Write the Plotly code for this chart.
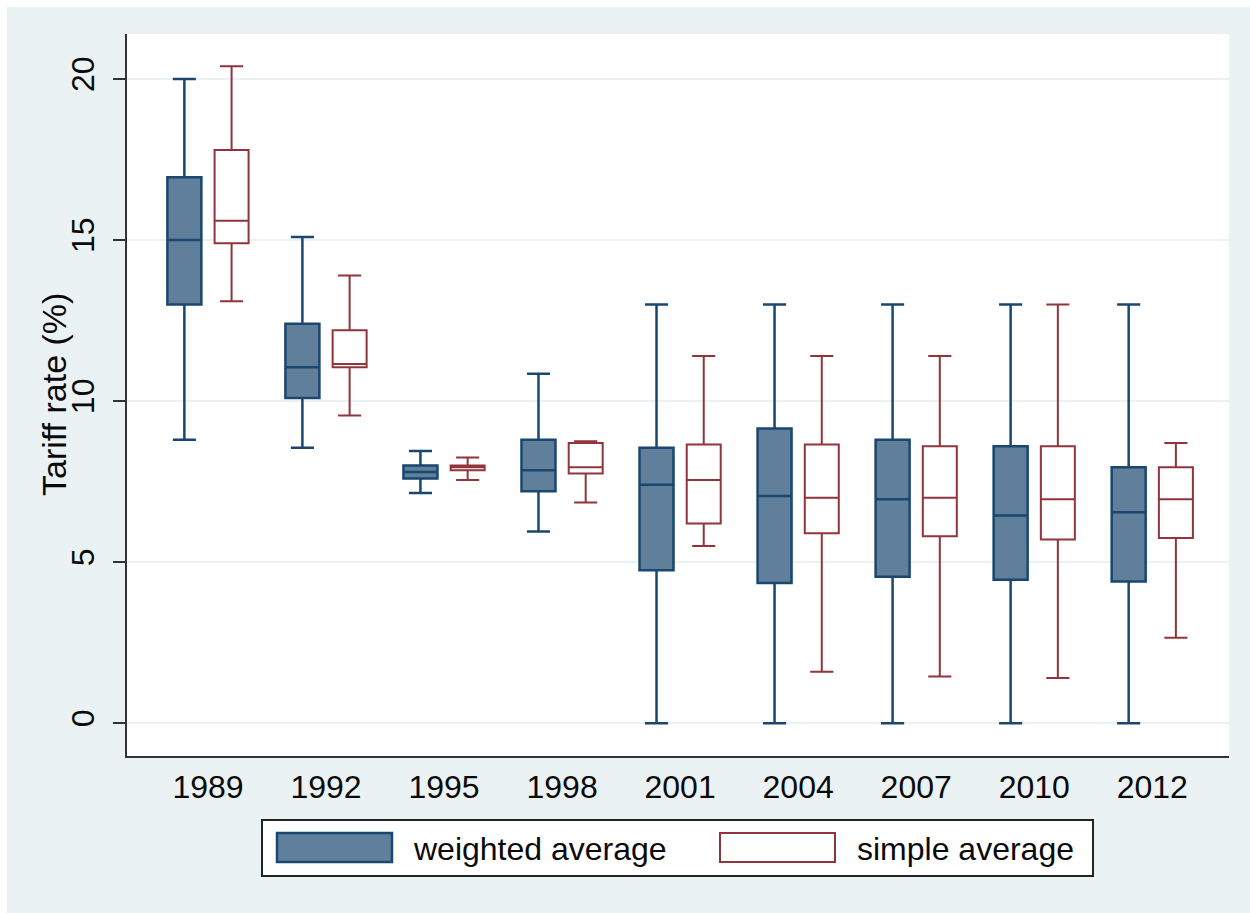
import plotly.graph_objects as go

# Survey years
years = ["1989", "1992", "1995", "1998", "2001", "2004", "2007", "2010", "2012"]

# Trade-weighted average tariff rate (%): box summary per year
w_low = [8.8, 8.55, 7.15, 5.95, 0.0, 0.0, 0.0, 0.0, 0.0]
w_q1 = [13.0, 10.1, 7.6, 7.2, 4.75, 4.35, 4.55, 4.45, 4.4]
w_med = [15.0, 11.05, 7.8, 7.85, 7.4, 7.05, 6.95, 6.45, 6.55]
w_q3 = [16.95, 12.4, 8.0, 8.8, 8.55, 9.15, 8.8, 8.6, 7.95]
w_high = [20.0, 15.1, 8.45, 10.85, 13.0, 13.0, 13.0, 13.0, 13.0]

# Simple average tariff rate (%): box summary per year
s_low = [13.1, 9.55, 7.55, 6.85, 5.5, 1.6, 1.45, 1.4, 2.65]
s_q1 = [14.9, 11.05, 7.85, 7.75, 6.2, 5.9, 5.8, 5.7, 5.75]
s_med = [15.6, 11.15, 7.95, 7.95, 7.55, 7.0, 7.0, 6.95, 6.95]
s_q3 = [17.8, 12.2, 8.0, 8.7, 8.65, 8.65, 8.6, 8.6, 7.95]
s_high = [20.4, 13.9, 8.25, 8.75, 11.4, 11.4, 11.4, 13.0, 8.7]

y_ticks = [0, 5, 10, 15, 20]

NAVY = "#1A476F"
NAVY_FILL = "#5F7F9B"
MAROON = "#90353B"
BG = "#EAF2F3"
FONT = "Arial, Liberation Sans, sans-serif"
TXT = "#0A0A0A"
FS = 32

fig = go.Figure()
fig.add_trace(go.Box(
    x=years, q1=w_q1, median=w_med, q3=w_q3,
    lowerfence=w_low, upperfence=w_high,
    name="weighted average", fillcolor=NAVY_FILL,
    line=dict(color=NAVY, width=2.5), whiskerwidth=0.68,
    boxpoints=False, hoverinfo="skip",
))
fig.add_trace(go.Box(
    x=years, q1=s_q1, median=s_med, q3=s_q3,
    lowerfence=s_low, upperfence=s_high,
    name="simple average", fillcolor="white",
    line=dict(color=MAROON, width=2), whiskerwidth=0.68,
    boxpoints=False, hoverinfo="skip",
))

# Plot-area geometry in pixels, used to place the hand-drawn legend
W, H = 1250, 913
ML, MR, MT, MB = 127, 21, 34, 157
PW, PH = W - ML - MR, H - MT - MB


def px(x):
    return (x - ML) / PW


def py(y):
    return (H - MB - y) / PH


shapes = [
    # thin white border strip at top and left of the figure
    dict(type="rect", xref="paper", yref="paper", x0=px(0), x1=px(W), y0=py(0), y1=py(7),
         fillcolor="white", line=dict(width=0), layer="below"),
    dict(type="rect", xref="paper", yref="paper", x0=px(0), x1=px(7), y0=py(H), y1=py(0),
         fillcolor="white", line=dict(width=0), layer="below"),
    # legend frame
    dict(type="rect", xref="paper", yref="paper", x0=px(262), x1=px(1093), y0=py(876), y1=py(820),
         fillcolor="white", line=dict(color="#222222", width=2)),
    # legend swatches
    dict(type="rect", xref="paper", yref="paper", x0=px(277), x1=px(392), y0=py(862), y1=py(833),
         fillcolor=NAVY_FILL, line=dict(color=NAVY, width=2.5)),
    dict(type="rect", xref="paper", yref="paper", x0=px(720), x1=px(835), y0=py(862), y1=py(833),
         fillcolor="white", line=dict(color=MAROON, width=2)),
]

annotations = [
    dict(text="weighted average", xref="paper", yref="paper", x=px(411), y=py(849),
         xanchor="left", yanchor="middle", showarrow=False,
         font=dict(family=FONT, size=FS, color=TXT)),
    dict(text="simple average", xref="paper", yref="paper", x=px(855), y=py(849),
         xanchor="left", yanchor="middle", showarrow=False,
         font=dict(family=FONT, size=FS, color=TXT)),
    dict(text="Tariff rate (%)", xref="paper", yref="paper", x=px(54), y=py(395),
         xanchor="center", yanchor="middle", textangle=-90, showarrow=False,
         font=dict(family=FONT, size=34, color=TXT)),
]

fig.update_layout(
    width=W, height=H,
    margin=dict(l=ML, r=MR, t=MT, b=MB, autoexpand=False),
    paper_bgcolor=BG, plot_bgcolor="white",
    boxmode="group", boxgap=0.2, boxgroupgap=0.28,
    showlegend=False,
    shapes=shapes, annotations=annotations,
    font=dict(family=FONT, size=FS, color=TXT),
)
fig.update_xaxes(
    type="category", categoryorder="array", categoryarray=years,
    range=[-0.686, 8.65], showgrid=False, zeroline=False,
    showline=True, linecolor="#333333", linewidth=2,
    ticks="", ticklabelstandoff=2,
    tickfont=dict(family=FONT, size=FS, color=TXT),
)
fig.update_yaxes(
    range=[-1.02, 21.4], tickvals=y_ticks, ticktext=[str(v) for v in y_ticks],
    tickangle=-90, ticks="outside", ticklen=12, tickwidth=2, tickcolor="#333333",
    ticklabelstandoff=6,
    showgrid=True, gridcolor=BG, gridwidth=2, zeroline=False,
    showline=True, linecolor="#333333", linewidth=2,
    tickfont=dict(family=FONT, size=FS, color=TXT),
)

fig.write_html("out.html")
